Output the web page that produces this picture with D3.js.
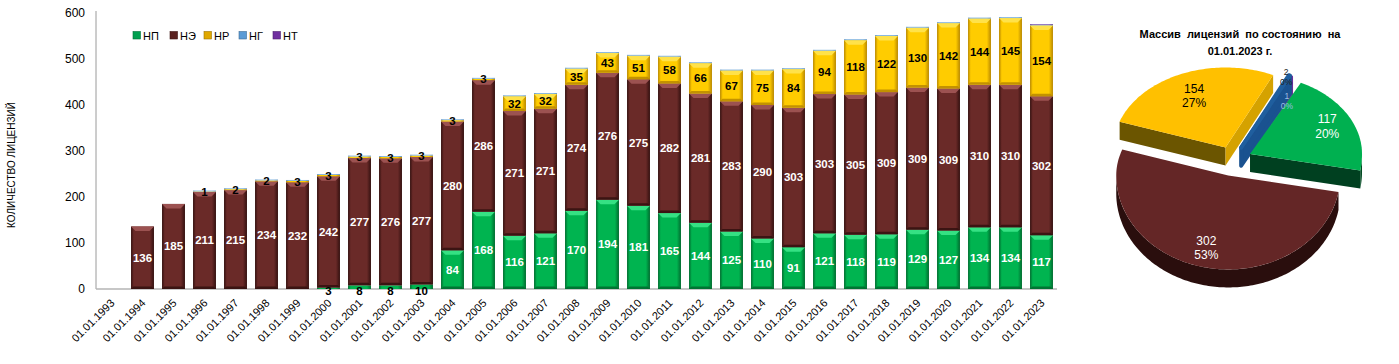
<!DOCTYPE html>
<html><head><meta charset="utf-8">
<script src="https://cdn.jsdelivr.net/npm/d3@7"></script>
<style>
html,body{margin:0;padding:0;background:#fff;}
svg{display:block;font-family:"Liberation Sans",Arial,sans-serif;}
</style></head>
<body><svg id="chart" width="1399" height="364"></svg>
<script>
// ---------- DATA ----------
const categories = ["01.01.1993","01.01.1994","01.01.1995","01.01.1996","01.01.1997","01.01.1998","01.01.1999","01.01.2000",
 "01.01.2001","01.01.2002","01.01.2003","01.01.2004","01.01.2005","01.01.2006","01.01.2007","01.01.2008","01.01.2009",
 "01.01.2010","01.01.2011","01.01.2012","01.01.2013","01.01.2014","01.01.2015","01.01.2016","01.01.2017","01.01.2018",
 "01.01.2019","01.01.2020","01.01.2021","01.01.2022","01.01.2023"];
const seriesNames = ["НП","НЭ","НР","НГ","НТ"];
const valuesNP = [0,0,0,0,0,0,0,3,8,8,10,84,168,116,121,170,194,181,165,144,125,110,91,121,118,119,129,127,134,134,117];
const valuesNE = [0,136,185,211,215,234,232,242,277,276,277,280,286,271,271,274,276,275,282,281,283,290,303,303,305,309,309,309,310,310,302];
const valuesNR = [0,0,0,1,2,2,3,3,3,3,3,3,3,32,32,35,43,51,58,66,67,75,84,94,118,122,130,142,144,145,154];
const valuesNG = [0,0,0,2,2,2,2,2,2,2,2,2,2,2,2,2,2,2,2,2,2,2,2,2,2,2,2,2,2,2,1];
const valuesNT = [0,0,0,0,0,0,0,0,0,0,0,0,0,0,0,0,0,0,0,0,0,0,0,0,0,0,0,0,0,0,2];
const yTicks = [0,100,200,300,400,500,600];
const yTitle = "КОЛИЧЕСТВО ЛИЦЕНЗИЙ";
const pieTitle1 = "Массив  лицензий  по состоянию  на";
const pieTitle2 = "01.01.2023 г.";
const piePercents = ["20%","53%","27%","0%","0%"];

// ---------- STYLE ----------
const colors = {
  "НП":{c:"#00B450", e:"#006A2E", t:"#35E183", legend:"#00A050"},
  "НЭ":{c:"#6A2A28", e:"#33100F", t:"#9C5251", legend:"#5A2220"},
  "НР":{c:"#FFCC00", e:"#B88700", t:"#FFE24A", legend:"#E0A800"},
  "НГ":{c:"#7FB2DE", e:"#5B8FC0", t:"#A9CDEE", legend:"#5B9BD5"},
  "НТ":{c:"#8C70C0", e:"#6A4A9E", t:"#A890D8", legend:"#7030A0"}
};
const labelColor = {"НП":"#fff","НЭ":"#fff","НР":"#000"};

const svg = d3.select("#chart");
const defs = svg.append("defs");
seriesNames.forEach((s,i)=>{
  const g = defs.append("linearGradient").attr("id","g"+i).attr("x1","0").attr("x2","1").attr("y1","0").attr("y2","0");
  g.append("stop").attr("offset","0").attr("stop-color",colors[s].e);
  g.append("stop").attr("offset","0.12").attr("stop-color",colors[s].c);
  g.append("stop").attr("offset","0.82").attr("stop-color",colors[s].c);
  g.append("stop").attr("offset","1").attr("stop-color",colors[s].e);
});

const plot = {left:96, right:1057, top:13, bottom:289};
const x = d3.scaleBand().domain(categories).range([plot.left, plot.right]).paddingInner(0.26).paddingOuter(0.13);
const y = d3.scaleLinear().domain([0,600]).range([plot.bottom, plot.top]);

const rows = categories.map((c,i)=>({cat:c,"НП":valuesNP[i],"НЭ":valuesNE[i],"НР":valuesNR[i],"НГ":valuesNG[i],"НТ":valuesNT[i]}));
const stacked = d3.stack().keys(seriesNames)(rows);

// axes
svg.append("line").attr("x1",plot.left).attr("x2",plot.left).attr("y1",y(600)-2).attr("y2",plot.bottom).attr("stroke","#9a9a9a");
svg.append("line").attr("x1",plot.left).attr("x2",plot.right).attr("y1",plot.bottom).attr("y2",plot.bottom).attr("stroke","#b5b5b5").attr("stroke-width",1.5);
svg.append("g").selectAll("text").data(yTicks).join("text")
  .attr("x",plot.left-11).attr("y",d=>y(d)).attr("dy","0.35em").attr("text-anchor","end")
  .attr("font-size",12).attr("fill","#000").text(d=>d);
svg.append("text").attr("transform",`translate(15,${165}) rotate(-90)`).attr("text-anchor","middle")
  .attr("font-size",10).attr("fill","#000").text(yTitle);
svg.append("g").selectAll("text").data(categories).join("text")
  .attr("transform",d=>`translate(${x(d)+x.bandwidth()/2+1},${plot.bottom+12}) rotate(-45)`)
  .attr("text-anchor","end").attr("dy","0.35em").attr("font-size",11).attr("fill","#000").text(d=>d);

// bars
const bw = x.bandwidth();
stacked.forEach((layer,si)=>{
  const s = layer.key;
  const g = svg.append("g");
  layer.forEach((d,i)=>{
    const v = d[1]-d[0];
    if(v<=0) return;
    const x0 = x(categories[i]);
    const yt = y(d[1]), yb = y(d[0]);
    const h = yb-yt;
    g.append("rect").attr("x",x0).attr("y",yt).attr("width",bw).attr("height",h).attr("fill",`url(#g${si})`);
    if(h>8){
      const b = 4.5;
      g.append("path").attr("d",`M${x0},${yt}L${x0+bw},${yt}L${x0+bw-b},${yt+b}L${x0+b},${yt+b}Z`).attr("fill",colors[s].t);
      g.append("path").attr("d",`M${x0},${yb}L${x0+bw},${yb}L${x0+bw-2.5},${yb-2.5}L${x0+2.5},${yb-2.5}Z`).attr("fill",colors[s].e).attr("opacity",0.85);
    }
  });
});
// labels
stacked.slice(0,3).forEach(layer=>{
  const s = layer.key;
  svg.append("g").selectAll("text").data(layer.map((d,i)=>({d,i})).filter(o=>o.d[1]-o.d[0]>0)).join("text")
    .attr("x",o=>x(categories[o.i])+bw/2)
    .attr("y",o=>{const h=y(o.d[0])-y(o.d[1]); const m=(y(o.d[0])+y(o.d[1]))/2; return (s==="НП"&&h<8)? y(0)+2 : m;})
    .attr("dy","0.35em").attr("text-anchor","middle").attr("font-size",11.5).attr("font-weight","bold")
    .attr("fill",o=>{const h=y(o.d[0])-y(o.d[1]); return h<8?"#000":labelColor[s];})
    .text(o=>o.d[1]-o.d[0]);
});

// legend
const lg = svg.append("g");
const legX = [133,170,204,239,273];
seriesNames.forEach((s,i)=>{
  lg.append("rect").attr("x",legX[i]).attr("y",31.5).attr("width",7.5).attr("height",7.5).attr("fill",colors[s].legend).attr("stroke",d3.color(colors[s].legend).darker(1)).attr("stroke-width",0.6);
  lg.append("text").attr("x",legX[i]+10).attr("y",36).attr("dy","0.35em").attr("font-size",11).attr("fill","#000").text(s);
});

// ---------- PIE ----------
const lastIdx = categories.length-1;
const pieValues = [valuesNP[lastIdx],valuesNE[lastIdx],valuesNR[lastIdx],valuesNG[lastIdx],valuesNT[lastIdx]];
const pieColors = [
  {top:"#00B050", side:"#004A22", endFace:"#004020", startFace:"#004020", text:"#fff", stroke:0},
  {top:"#642626", side:"#2A0E0D", endFace:"#2A0E0D", startFace:"#2A0E0D", text:"#fff", stroke:0},
  {top:"#FFC000", side:"#6B5500", endFace:"#D5A200", startFace:"#6B5500", text:"#000", stroke:0},
  {top:"#1F5E9E", side:"#174A80", endFace:"#1A5290", startFace:"#174A80", text:"#9FBCE0", stroke:4},
  {top:"#7030A0", side:"#5A2688", endFace:"#6A2E98", startFace:"#5A2688", text:"#222", stroke:1.5}
];
const P = {cx:1233, cy:160, rx:112, ryT:80, ryB:94, depth:18, explode:19, start:27*Math.PI/180};
const lblR = [0.75,0.78,0.72,0.66,1.0];
const lblDx = [2,0,0,14,-5];
const lblDy = [-2,0,0,0,0];
const lblSize = [12,12,12,8.5,8.5];
const drawOrder = [2,4,3,0,1];
const pieFn = d3.pie().sort(null).startAngle(P.start).endAngle(P.start+2*Math.PI);
const arcs = pieFn(pieValues);
function pt(a, ox, oy, dz){ const c=Math.cos(a); const ry = c>0?P.ryT:P.ryB; return [P.cx+ox+P.rx*Math.sin(a), P.cy+oy-ry*c+(dz||0)]; }
function offs(m){ const c=Math.cos(m); const ry=c>0?P.ryT:P.ryB; return [P.explode*Math.sin(m), -P.explode*c*ry/P.rx]; }
function arcPts(a0,a1,ox,oy,dz){ const n=Math.max(2,Math.ceil((a1-a0)/0.02)); const r=[]; for(let k=0;k<=n;k++){r.push(pt(a0+(a1-a0)*k/n,ox,oy,dz));} return r; }
const line = d3.line();
const pg = svg.append("g");
drawOrder.forEach(i=>{
  const a = arcs[i]; const a0=a.startAngle, a1=a.endAngle; const m=(a0+a1)/2;
  const [ox,oy] = offs(m); const apex=[P.cx+ox,P.cy+oy]; const D=P.depth;
  const col = pieColors[i];
  const sw = col.stroke;
  const face = (p,fill)=>pg.append("path").attr("d",line([apex,p,[p[0],p[1]+D],[apex[0],apex[1]+D]])+"Z").attr("fill",fill)
      .attr("stroke",sw?fill:"none").attr("stroke-width",sw).attr("stroke-linejoin","round");
  if(Math.sin(a0)<0) face(pt(a0,ox,oy), col.startFace);
  if(Math.sin(a1)>0) face(pt(a1,ox,oy), col.endFace);
  for(let k=-1;k<=2;k++){
    const lo=Math.max(a0,Math.PI/2+2*Math.PI*k), hi=Math.min(a1,3*Math.PI/2+2*Math.PI*k);
    if(hi>lo){ const top=arcPts(lo,hi,ox,oy,0), bot=arcPts(lo,hi,ox,oy,D).reverse();
      pg.append("path").attr("d",line(top.concat(bot))+"Z").attr("fill",col.side); }
  }
  pg.append("path").attr("d",line([apex].concat(arcPts(a0,a1,ox,oy,0)))+"Z").attr("fill",col.top)
    .attr("stroke",sw?col.top:"none").attr("stroke-width",sw).attr("stroke-linejoin","round");
});
arcs.forEach((a,i)=>{
  const m=(a.startAngle+a.endAngle)/2; const [ox,oy]=offs(m); const c=Math.cos(m); const ry=c>0?P.ryT:P.ryB;
  const lx=P.cx+ox+lblR[i]*P.rx*Math.sin(m)+lblDx[i], ly=P.cy+oy-lblR[i]*ry*c+lblDy[i];
  const t = pg.append("text").attr("text-anchor","middle").attr("font-size",lblSize[i]).attr("fill",pieColors[i].text);
  t.append("tspan").attr("x",lx).attr("y",ly-lblSize[i]*0.15).text(pieValues[i]);
  t.append("tspan").attr("x",lx).attr("y",ly+lblSize[i]*1.05).text(piePercents[i]);
});
svg.append("text").attr("x",1240).attr("y",38).attr("text-anchor","middle").attr("font-size",11).attr("font-weight","bold").style("white-space","pre").text(pieTitle1);
svg.append("text").attr("x",1240).attr("y",55).attr("text-anchor","middle").attr("font-size",11).attr("font-weight","bold").text(pieTitle2);
</script></body></html>
